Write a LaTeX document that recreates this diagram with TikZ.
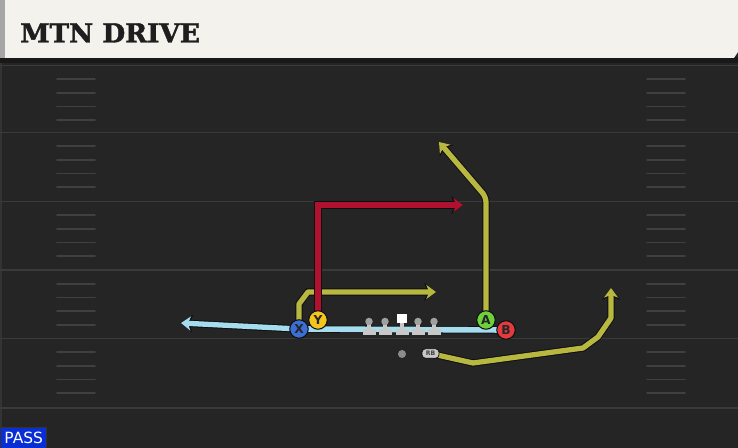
\documentclass[tikz,border=0pt]{standalone}
\usepackage{fontspec}
\usepackage{xcolor}
\usepackage{tikz}
\setmainfont{DejaVu Sans}
\newfontfamily\titlefont[BoldFeatures={FakeBold=1.6}]{DejaVu Serif}
\definecolor{turfgray}{RGB}{37, 37, 37}
\definecolor{yardgray}{RGB}{58, 58, 58}
\definecolor{hashgray}{RGB}{64, 64, 64}
\definecolor{headercream}{RGB}{244, 242, 236}
\definecolor{titleink}{RGB}{30, 30, 30}
\definecolor{routeolive}{RGB}{184, 184, 64}
\definecolor{routered}{RGB}{176, 17, 46}
\definecolor{routeblue}{RGB}{166, 221, 238}
\definecolor{routeedge}{RGB}{14, 14, 18}
\definecolor{playerblue}{RGB}{60, 110, 216}
\definecolor{playeryellow}{RGB}{244, 197, 28}
\definecolor{playergreen}{RGB}{109, 209, 58}
\definecolor{playerred}{RGB}{226, 58, 63}
\definecolor{linemangray}{RGB}{200, 200, 200}
\definecolor{helmetgray}{RGB}{160, 160, 160}
\definecolor{passblue}{RGB}{10, 46, 214}
\usetikzlibrary{arrows.meta,positioning,calc}
\pgfdeclarelayer{field}
\pgfdeclarelayer{routes}
\pgfsetlayers{field,routes,main}

\begin{document}
\begin{tikzpicture}[
    x=0.02cm, y=-0.02cm,
    yardline/.style={draw=yardgray, line width=1.1pt},
    hashmark/.style={draw=hashgray, line width=1pt, line cap=round},
    player/.style={
        circle,
        draw=routeedge,
        line width=0.6pt,
        minimum size=0.37cm,
        inner sep=0pt,
        font=\fontsize{7}{7}\selectfont\bfseries,
        text=black!85
    },
    route/.style={line width=3pt, line join=round,
        preaction={draw=routeedge, line width=4.1pt}},
    routearrow/.style={line width=3pt, line join=round,
        -{Stealth[length=5.5pt,width=8pt,inset=1.6pt]},
        preaction={draw=routeedge, line width=4.1pt,
            -{Stealth[length=6.6pt,width=10pt,inset=1.9pt]}}},
    rbtag/.style={rectangle, rounded corners=2pt, fill=linemangray, draw=routeedge,
        line width=0.4pt, minimum width=0.34cm, minimum height=0.19cm, inner sep=0pt,
        font=\fontsize{3.5}{3.5}\selectfont\bfseries, text=black!75},
    qbdot/.style={circle, fill=black!45, minimum size=0.16cm, inner sep=0pt},
    passtag/.style={rectangle, fill=passblue, draw=black!80, line width=0.5pt,
        minimum width=0.93cm, minimum height=0.42cm, inner sep=0pt,
        font=\fontsize{8.8}{8.8}\selectfont, text=white}
]
    \useasboundingbox (0,0) rectangle (738,448);

    % Field
    \begin{pgfonlayer}{field}
    \fill[turfgray] (0,0) rectangle (738,448);
    \fill[black!80] (0,63) rectangle (2,448);
    \foreach \yl in {65.5,132.5,201.5,270,338.5,408}
        \draw[yardline] (0,\yl) -- (738,\yl);
    \foreach \yl in {65.5,132.5,201.5,270,338.5}
        \foreach \k in {1,...,4} {
            \draw[hashmark] (57,\yl+13.7*\k) -- (95,\yl+13.7*\k);
            \draw[hashmark] (647,\yl+13.7*\k) -- (685,\yl+13.7*\k);
        }
    % Header
    \fill[black!90] (0,57) rectangle (738,63);
    \fill[headercream] (0,0) -- (738,0) -- (738,52) -- (734,58) -- (0,58) -- cycle;
    \fill[black!35] (0,0) rectangle (5,58);
    \end{pgfonlayer}

    \node[anchor=base west, text=titleink, inner sep=0pt,
        font=\titlefont\fontsize{15}{16}\selectfont\bfseries] (title) at (20,42.5) {MTN DRIVE};

    % Line
    \foreach \lx in {369,385,402,418,434} {
        \fill[linemangray] (\lx-2,322) rectangle (\lx+2,330);
        \fill[linemangray] (\lx-6.5,329) rectangle (\lx+6.5,335.5);
    }
    \foreach \lx in {369,385,418,434}
        \fill[helmetgray] (\lx,321.5) circle (0.075cm);
    \fill[white] (397,314) rectangle (407,323.5);

    % Players
    \node[player, fill=playerblue] (X) at (299,329) {X};
    \node[player, fill=playeryellow] (Y) at (318,320) {Y};
    \node[player, fill=playergreen] (A) at (486,320) {A};
    \node[player, fill=playerred] (B) at (506,330) {B};
    \node[qbdot] (QB) at (402,354) {};
    \node[rbtag] (RB) at (430.5,353.5) {RB};

    % Route breaks
    \coordinate (xflat) at (181,323);
    \coordinate (xstem) at (299,304);
    \coordinate (xturn) at (308,292);
    \coordinate (xdrag) at (436,292);
    \coordinate (ypost) at (463,205);
    \coordinate (abreak) at (486,197);
    \coordinate (acorner) at (439,142);
    \coordinate (rbdip) at (473,363);
    \coordinate (rbrun) at (583,348);
    \coordinate (rbbend) at (598,337);
    \coordinate (rbturn) at (611,318);
    \coordinate (rbwheel) at (611,288);

    % Routes
    \begin{pgfonlayer}{routes}
    \draw[route, routeblue, line width=3.2pt] (X.center) -- (B.center);
    \draw[routearrow, routeblue] (X.center) -- (xflat);
    \draw[routearrow, routeolive] (X.center) -- (xstem) -- (xturn) -- (xdrag);
    \draw[routearrow, routered, line join=miter, preaction={line join=miter}] (Y.center) |- (ypost);
    \draw[routearrow, routeolive, rounded corners=3pt] (A.center) -- (abreak) -- (acorner);
    \draw[routearrow, routeolive] (RB.center) -- (rbdip) -- (rbrun) -- (rbbend) -- (rbturn) -- (rbwheel);
    \end{pgfonlayer}

    % Play type
    \node[passtag, anchor=south west] (pass) at (0,448.5) {PASS};
\end{tikzpicture}
\end{document}
